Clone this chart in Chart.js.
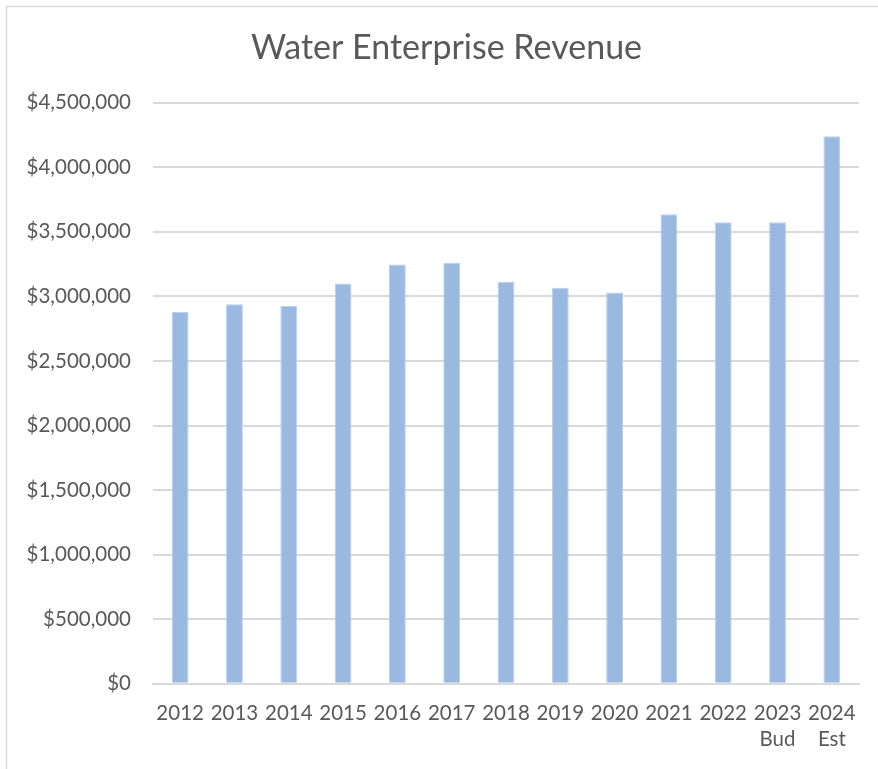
<!DOCTYPE html>
<html>
<head>
<meta charset="utf-8">
<script src="https://cdn.jsdelivr.net/npm/chart.js@4.4.0/dist/chart.umd.min.js"></script>
<style>
  html, body { margin: 0; padding: 0; background: #fff; }
  #wrap { width: 878px; height: 769px; }
</style>
</head>
<body>
<div id="wrap"><canvas id="grafico"></canvas></div>
<script>
// Datos del gráfico
var categorias = ['2012', '2013', '2014', '2015', '2016', '2017', '2018', '2019', '2020', '2021', '2022', ['2023', 'Bud'], ['2024', 'Est']];
var ingresos = [2880000, 2940000, 2925000, 3100000, 3248000, 3260000, 3114000, 3067000, 3031000, 3636000, 3574000, 3574000, 4240000];
var ticksY = [0, 500000, 1000000, 1500000, 2000000, 2500000, 3000000, 3500000, 4000000, 4500000];

var grisTexto = '#595959';
var grisLinea = '#d9d9d9';

// Marco del gráfico (estilo Excel) y título centrado como en el original
var marco = {
    id: 'marco',
    afterLayout: function (chart) {
        if (chart.titleBlock) {
            chart.titleBlock.left += 12;
            chart.titleBlock.right += 12;
        }
    },
    beforeDraw: function (chart) {
        var c = chart.ctx;
        c.save();
        c.fillStyle = '#fff';
        c.fillRect(0, 0, chart.width, chart.height);
        c.strokeStyle = grisLinea;
        c.lineWidth = 1.5;
        c.strokeRect(6.5, 6.5, chart.width + 20, chart.height + 20);
        c.restore();
    }
};

var ctx = document.getElementById('grafico').getContext('2d');
var grafico = new Chart(ctx, {
    type: 'bar',
    data: {
        labels: categorias,
        datasets: [{
            label: 'Revenue',
            data: ingresos,
            backgroundColor: '#99b9e0',
            borderColor: '#b9d0ec',
            borderWidth: 1,
            barPercentage: 0.31,
            categoryPercentage: 1.0
        }]
    },
    options: {
        responsive: true,
        maintainAspectRatio: false,
        animation: false,
        layout: { padding: { left: 10, right: 19, top: 14, bottom: 0 } },
        plugins: {
            legend: { display: false },
            tooltip: { enabled: false },
            title: {
                display: true,
                text: 'Water Enterprise Revenue',
                color: grisTexto,
                font: { family: 'Lato', size: 34, weight: 'normal' },
                padding: { top: 14, bottom: 34 }
            }
        },
        scales: {
            x: {
                grid: { display: false, drawTicks: false },
                border: { color: grisLinea, width: 2 },
                ticks: {
                    color: grisTexto,
                    font: { family: 'Lato', size: 20.5, lineHeight: 1.3 },
                    padding: 16,
                    maxRotation: 0,
                    autoSkip: false
                }
            },
            y: {
                min: 0,
                max: 4500000,
                afterFit: function (scale) { scale.width = 143; },
                afterBuildTicks: function (scale) {
                    scale.ticks = ticksY.map(function (v) { return { value: v }; });
                },
                grid: { color: grisLinea, lineWidth: 2, drawTicks: false },
                border: { display: false },
                ticks: {
                    color: grisTexto,
                    font: { family: 'Lato', size: 20.5 },
                    padding: 22,
                    callback: function (v) { return '$' + v.toLocaleString('en-US'); }
                }
            }
        }
    },
    plugins: [marco]
});
</script>
</body>
</html>
